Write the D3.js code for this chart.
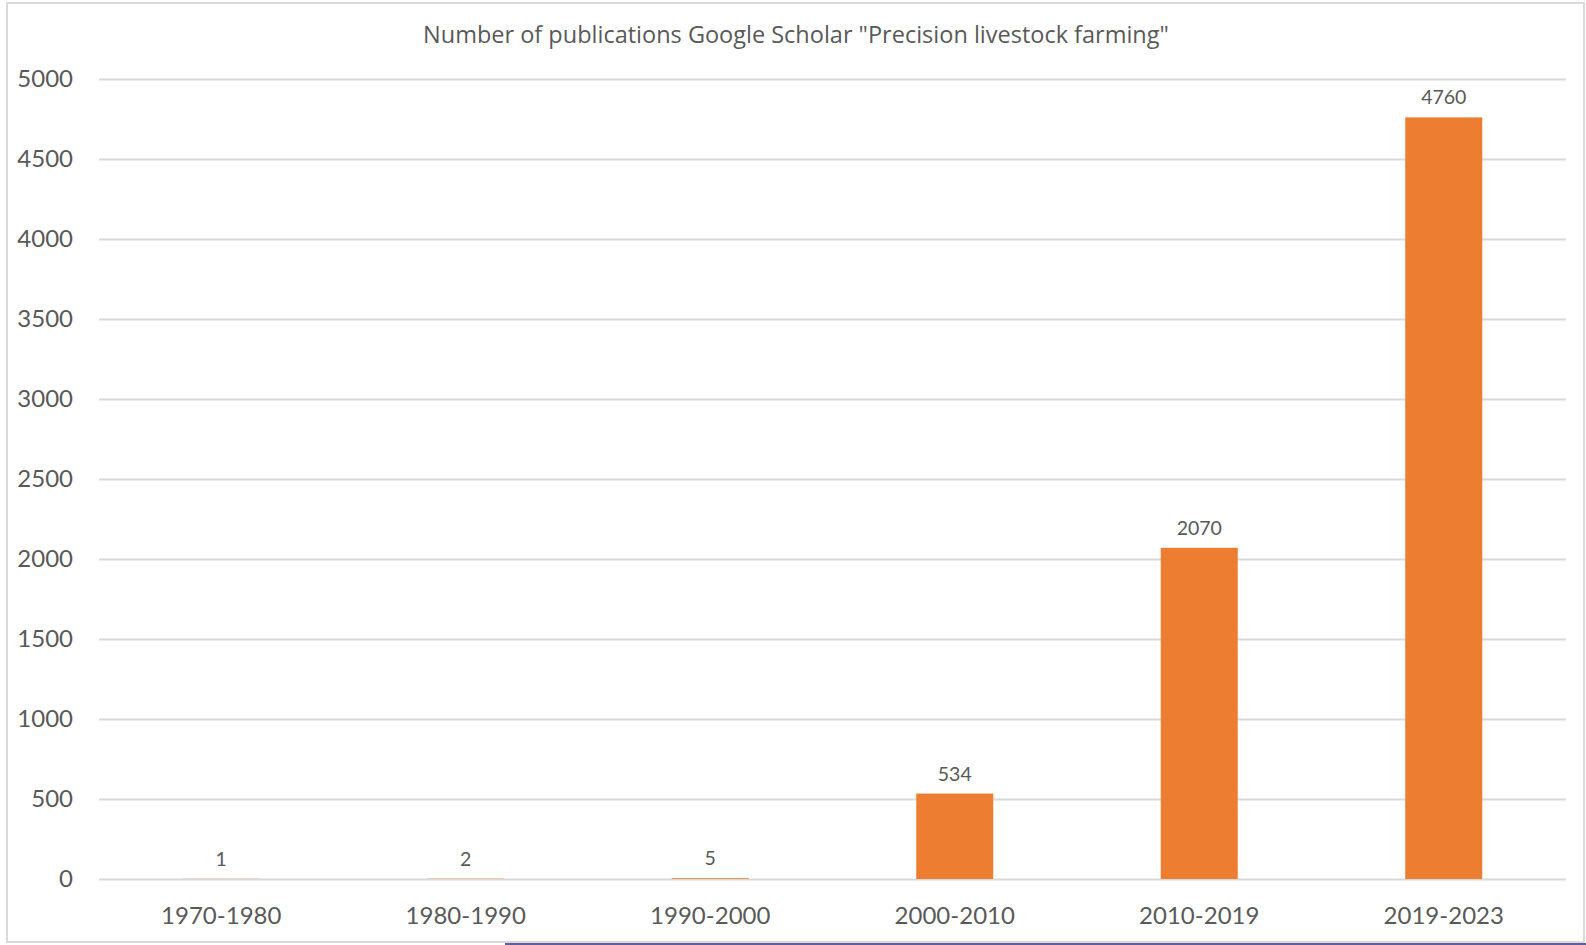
<!DOCTYPE html>
<html>
<head>
<meta charset="utf-8">
<script src="https://cdn.jsdelivr.net/npm/d3@7"></script>
<style>
  html, body { margin: 0; padding: 0; background: #fff; }
  svg { display: block; }
  text { font-family: Lato, "Open Sans", sans-serif; fill: #595959; }
</style>
</head>
<body>
<svg id="chart" width="1586" height="945"></svg>
<script>
// Publication counts per period
const categories = ["1970-1980", "1980-1990", "1990-2000", "2000-2010", "2010-2019", "2019-2023"];
const publications = [1, 2, 5, 534, 2070, 4760];
const yTicks = [0, 500, 1000, 1500, 2000, 2500, 3000, 3500, 4000, 4500, 5000];
const chartTitle = 'Number of publications Google Scholar "Precision livestock farming"';

const svg = d3.select("#chart");
const W = 1586, H = 945;
const plot = { left: 99, right: 1566, top: 79, bottom: 879 };

// chart frame
svg.append("rect")
  .attr("x", 7).attr("y", 3)
  .attr("width", 1577).attr("height", 939)
  .attr("fill", "#fff")
  .attr("stroke", "#d9d9d9").attr("stroke-width", 2);
svg.append("line")
  .attr("x1", 505).attr("x2", W)
  .attr("y1", 944).attr("y2", 944)
  .attr("stroke", "#5f5f9e").attr("stroke-width", 2);

const x = d3.scaleBand()
  .domain(categories)
  .range([plot.left, plot.right])
  .paddingInner(0.685)
  .paddingOuter(0.3425);

const y = d3.scaleLinear()
  .domain([0, 5000])
  .range([plot.bottom, plot.top]);

// horizontal gridlines + value labels
const yAxis = d3.axisLeft(y)
  .tickValues(yTicks)
  .tickSize(-(plot.right - plot.left))
  .tickPadding(26)
  .tickFormat(d3.format("d"));

const gy = svg.append("g")
  .attr("transform", `translate(${plot.left},0)`)
  .call(yAxis);
gy.select(".domain").remove();
gy.selectAll(".tick line").attr("stroke", "#d9d9d9").attr("stroke-width", 2);
gy.selectAll(".tick text")
  .attr("fill", "#595959")
  .style("font-size", "24px");

// category axis
const xAxis = d3.axisBottom(x).tickSize(0).tickPadding(28);
const gx = svg.append("g")
  .attr("transform", `translate(0,${plot.bottom})`)
  .call(xAxis);
gx.select(".domain").remove();
gx.selectAll(".tick text")
  .attr("fill", "#595959")
  .style("font-size", "24px");

// bars
svg.append("g").selectAll("rect")
  .data(categories.map((c, i) => ({ c, v: publications[i] })))
  .join("rect")
  .attr("x", d => x(d.c))
  .attr("width", x.bandwidth())
  .attr("y", d => y(d.v))
  .attr("height", d => y(0) - y(d.v))
  .attr("fill", "#ed7d31");

// value labels
svg.append("g").selectAll("text")
  .data(categories.map((c, i) => ({ c, v: publications[i] })))
  .join("text")
  .attr("x", d => x(d.c) + x.bandwidth() / 2)
  .attr("y", d => y(d.v) - 13)
  .attr("text-anchor", "middle")
  .style("font-size", "19.5px")
  .text(d => d.v);

// title
svg.append("text")
  .attr("x", 796)
  .attr("y", 43)
  .attr("text-anchor", "middle")
  .style("font-family", "'Open Sans', sans-serif")
  .style("font-size", "23.5px")
  .text(chartTitle);
</script>
</body>
</html>
